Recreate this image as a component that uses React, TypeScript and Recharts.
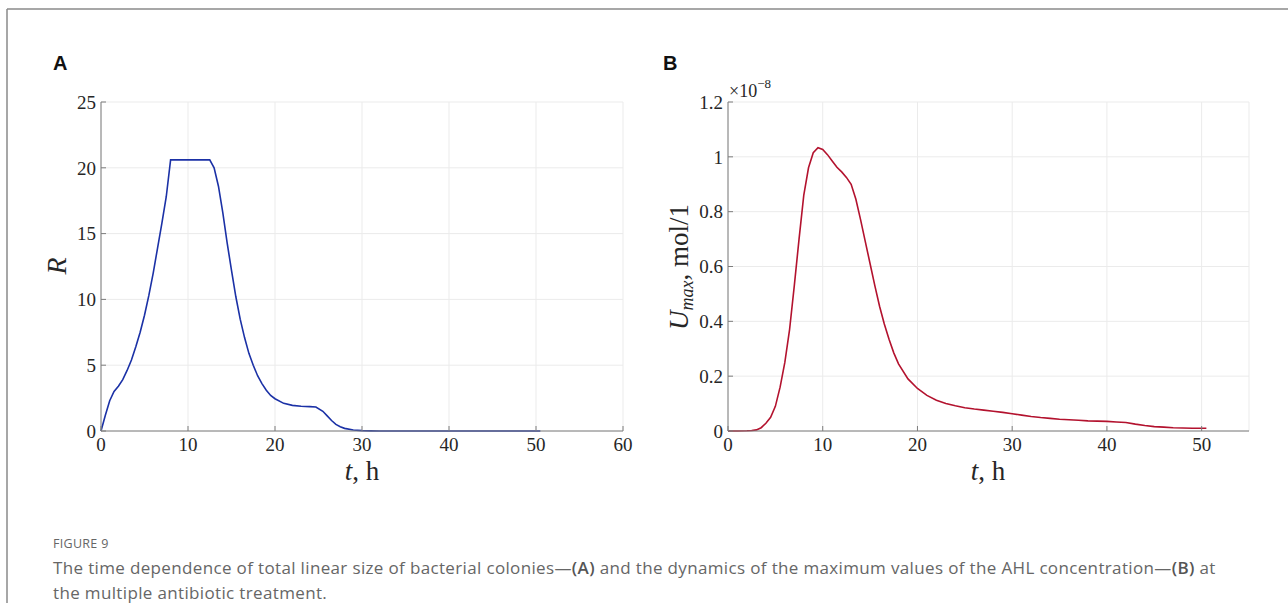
import React from "react";
import { LineChart, Line, XAxis, YAxis, CartesianGrid } from "recharts";

// Panel A: total linear size R vs time t (h)
const timeA = [0, 0.5, 1, 1.5, 2, 2.5, 3, 3.5, 4, 4.5, 5, 5.5, 6, 6.5, 7, 7.5, 8, 9, 10, 11, 12, 12.5, 13, 13.5, 14, 14.5, 15, 15.5, 16, 16.5, 17, 17.5, 18, 18.5, 19, 19.5, 20, 21, 22, 23, 24, 24.7, 25.5, 26, 26.5, 27, 27.5, 28, 29, 30, 31, 32, 35, 40, 45, 50, 50.5];
const radiusA = [0, 1.2, 2.3, 3.0, 3.4, 3.9, 4.6, 5.4, 6.4, 7.5, 8.8, 10.3, 12.0, 13.9, 15.8, 17.8, 20.6, 20.6, 20.6, 20.6, 20.6, 20.6, 20.0, 18.6, 16.6, 14.3, 12.2, 10.2, 8.5, 7.1, 5.9, 5.0, 4.2, 3.6, 3.1, 2.7, 2.45, 2.1, 1.95, 1.88, 1.85, 1.82, 1.5, 1.15, 0.8, 0.5, 0.32, 0.2, 0.08, 0.03, 0.01, 0, 0, 0, 0, 0, 0];

// Panel B: maximum AHL concentration (in units of 1e-8 mol/l) vs time t (h)
const timeB = [0, 1, 2, 2.5, 3, 3.5, 4, 4.5, 5, 5.5, 6, 6.5, 7, 7.5, 8, 8.5, 9, 9.5, 10, 10.5, 11, 11.5, 12, 12.5, 13, 13.5, 14, 14.5, 15, 15.5, 16, 16.5, 17, 17.5, 18, 19, 20, 21, 22, 23, 24, 25, 26, 27, 28, 29, 30, 31, 32, 33, 34, 35, 36, 37, 38, 39, 40, 41, 42, 43, 44, 45, 46, 47, 48, 49, 50, 50.5];
const umaxB = [0, 0, 0.001, 0.002, 0.004, 0.012, 0.028, 0.05, 0.09, 0.16, 0.25, 0.37, 0.53, 0.7, 0.86, 0.96, 1.015, 1.033, 1.027, 1.008, 0.985, 0.962, 0.945, 0.925, 0.9, 0.845, 0.77, 0.69, 0.61, 0.53, 0.455, 0.39, 0.335, 0.285, 0.245, 0.19, 0.155, 0.13, 0.112, 0.1, 0.092, 0.085, 0.08, 0.076, 0.072, 0.068, 0.063, 0.058, 0.053, 0.049, 0.046, 0.043, 0.041, 0.039, 0.037, 0.036, 0.035, 0.033, 0.031, 0.025, 0.02, 0.016, 0.014, 0.012, 0.011, 0.01, 0.01, 0.01];

const ticksXA = [0, 10, 20, 30, 40, 50, 60];
const ticksYA = [0, 5, 10, 15, 20, 25];
const ticksXB = [0, 10, 20, 30, 40, 50];
const ticksYB = [0, 0.2, 0.4, 0.6, 0.8, 1, 1.2];

const dataA = timeA.map((t, i) => ({ t, r: radiusA[i] }));
const dataB = timeB.map((t, i) => ({ t, u: umaxB[i] }));

const SERIF = "'Liberation Serif', 'DejaVu Serif', serif";
const TICK_COLOR = "#262626";
const BOX = "#7d7d7d";
const GRID = "#ebebeb";
const TICK_FS = 19;

const fmt = (v: number) => String(Number(v.toFixed(2)));

const BottomTick = (props: any) => {
  const { x, y, payload } = props;
  return (
    <g>
      <line x1={x} x2={x} y1={y - 7} y2={y - 12} stroke={BOX} strokeWidth={1} />
      <text x={x} y={y} dy="0.71em" textAnchor="middle" fontFamily={SERIF} fontSize={TICK_FS} fill={TICK_COLOR}>
        {fmt(payload.value)}
      </text>
    </g>
  );
};

const LeftTick = (props: any) => {
  const { x, y, payload } = props;
  return (
    <g>
      <line x1={x + 5} x2={x + 10} y1={y} y2={y} stroke={BOX} strokeWidth={1} />
      <text x={x} y={y} dy="0.355em" textAnchor="end" fontFamily={SERIF} fontSize={TICK_FS} fill={TICK_COLOR}>
        {fmt(payload.value)}
      </text>
    </g>
  );
};

const TopTick = (props: any) => {
  const { x, y } = props;
  return <line x1={x} x2={x} y1={y} y2={y + 5} stroke={BOX} strokeWidth={1} />;
};

const RightTick = (props: any) => {
  const { x, y } = props;
  return <line x1={x} x2={x - 5} y1={y} y2={y} stroke={BOX} strokeWidth={1} />;
};

const CAPTION_FONT = "'Open Sans', 'Noto Sans', sans-serif";

export default function App() {
  return (
    <div style={{ position: "absolute", left: 0, top: 0, width: 1288, height: 603, background: "#fff", overflow: "hidden" }}>
      {/* Panel A */}
      <div style={{ position: "absolute", left: 0, top: 0 }}>
        <LineChart width={640} height={480} data={dataA} margin={{ top: 102, right: 17, bottom: 0, left: 61 }}>
          <CartesianGrid stroke={GRID} strokeWidth={1} />
          <XAxis xAxisId="top" orientation="top" type="number" dataKey="t" domain={[0, 60]} ticks={ticksXA} height={0} tickSize={0} tickMargin={0} tickLine={false} axisLine={{ stroke: BOX }} tick={<TopTick />} />
          <XAxis type="number" dataKey="t" domain={[0, 60]} ticks={ticksXA} height={49} tickSize={0} tickMargin={7} tickLine={false} axisLine={{ stroke: BOX }} tick={<BottomTick />} />
          <YAxis yAxisId="right" orientation="right" type="number" domain={[0, 25]} ticks={ticksYA} width={0} tickSize={0} tickMargin={0} tickLine={false} axisLine={{ stroke: BOX }} tick={<RightTick />} />
          <YAxis type="number" domain={[0, 25]} ticks={ticksYA} width={40} tickSize={0} tickMargin={5} tickLine={false} axisLine={{ stroke: BOX }} tick={<LeftTick />} />
          <Line type="linear" dataKey="r" stroke="#1b31a6" strokeWidth={1.6} dot={false} isAnimationActive={false} />
        </LineChart>
      </div>

      {/* Panel B */}
      <div style={{ position: "absolute", left: 640, top: 0 }}>
        <LineChart width={648} height={480} data={dataB} margin={{ top: 102, right: 39, bottom: 0, left: 48 }}>
          <CartesianGrid stroke={GRID} strokeWidth={1} />
          <XAxis xAxisId="top" orientation="top" type="number" dataKey="t" domain={[0, 55]} ticks={ticksXB} height={0} tickSize={0} tickMargin={0} tickLine={false} axisLine={{ stroke: BOX }} tick={<TopTick />} />
          <XAxis type="number" dataKey="t" domain={[0, 55]} ticks={ticksXB} height={49} tickSize={0} tickMargin={7} tickLine={false} axisLine={{ stroke: BOX }} tick={<BottomTick />} />
          <YAxis yAxisId="right" orientation="right" type="number" domain={[0, 1.2]} ticks={ticksYB} width={0} tickSize={0} tickMargin={0} tickLine={false} axisLine={{ stroke: BOX }} tick={<RightTick />} />
          <YAxis type="number" domain={[0, 1.2]} ticks={ticksYB} width={40} tickSize={0} tickMargin={5} tickLine={false} axisLine={{ stroke: BOX }} tick={<LeftTick />} />
          <Line type="linear" dataKey="u" stroke="#b3122e" strokeWidth={1.6} dot={false} isAnimationActive={false} />
        </LineChart>
      </div>

      {/* Labels overlay */}
      <svg width={1288} height={603} style={{ position: "absolute", left: 0, top: 0, pointerEvents: "none" }}>
        <line x1={7} x2={1288} y1={9} y2={9} stroke="#8a8a8a" strokeWidth={1.5} />
        <line x1={7} x2={7} y1={9} y2={603} stroke="#8a8a8a" strokeWidth={1.5} />

        <text x={53} y={70} fontFamily="'Liberation Sans', Arial, sans-serif" fontWeight="bold" fontSize={20} fill="#111">A</text>
        <text x={663} y={70} fontFamily="'Liberation Sans', Arial, sans-serif" fontWeight="bold" fontSize={20} fill="#111">B</text>

        {/* Axis titles A */}
        <text x={362} y={480} textAnchor="middle" fontFamily={SERIF} fontSize={27} fill={TICK_COLOR}>
          <tspan fontStyle="italic">t</tspan>, h
        </text>
        <text x={0} y={0} transform="translate(66,266) rotate(-90)" textAnchor="middle" fontFamily={SERIF} fontSize={28} fontStyle="italic" fill={TICK_COLOR}>R</text>

        {/* Axis titles B */}
        <text x={988} y={480} textAnchor="middle" fontFamily={SERIF} fontSize={27} fill={TICK_COLOR}>
          <tspan fontStyle="italic">t</tspan>, h
        </text>
        <text x={0} y={0} transform="translate(688,267) rotate(-90)" textAnchor="middle" fontFamily={SERIF} fontSize={27} fill={TICK_COLOR}>
          <tspan fontStyle="italic">U</tspan>
          <tspan fontStyle="italic" fontSize={18} dy={5}>max</tspan>
          <tspan dy={-5}>, mol/1</tspan>
        </text>
        <text x={729} y={97} fontFamily={SERIF} fontSize={18} fill={TICK_COLOR}>
          ×10<tspan fontSize={13} dy={-9}>−8</tspan>
        </text>
      </svg>

      {/* Caption */}
      <div style={{ position: "absolute", left: 53, top: 535, fontFamily: CAPTION_FONT, fontSize: 12.5, color: "#666", letterSpacing: 0.3 }}>
        FIGURE 9
      </div>
      <div style={{ position: "absolute", left: 53, top: 555, fontFamily: CAPTION_FONT, fontSize: 17, lineHeight: "25px", color: "#666", whiteSpace: "nowrap", letterSpacing: 0.35 }}>
        The time dependence of total linear size of bacterial colonies—<b style={{ fontWeight: 600, color: "#555" }}>(A)</b> and the dynamics of the maximum values of the AHL concentration—<b style={{ fontWeight: 600, color: "#555" }}>(B)</b> at
        <br />
        the multiple antibiotic treatment.
      </div>
    </div>
  );
}
